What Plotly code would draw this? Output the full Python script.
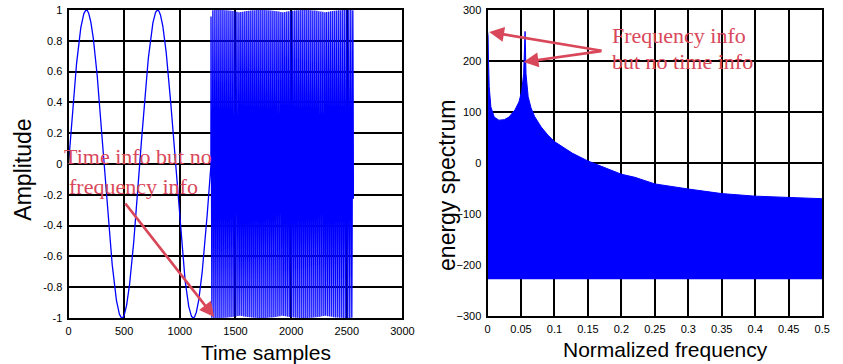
import numpy as np
import plotly.graph_objects as go

# ---- Left panel: test signal (two segments, frequencies) ----
n_samples = 2560
split_sample = 1280
low_period = 640        # samples per cycle of the slow part
high_freq = 0.0557      # cycles per sample of the fast part (matches right-hand spectrum peak)

t = np.arange(n_samples)
signal = np.where(t < split_sample,
                  np.sin(2 * np.pi * t / low_period),
                  np.sin(2 * np.pi * high_freq * t))

# ---- Right panel: energy spectrum envelope ----
freq_pts = [0.0, 0.0008, 0.0015, 0.0025, 0.005, 0.01, 0.017, 0.025, 0.032, 0.041,
            0.047, 0.051, 0.054, 0.0553, 0.0561, 0.0575, 0.0607, 0.065, 0.0704,
            0.08, 0.09, 0.1, 0.127, 0.15, 0.176, 0.2, 0.22, 0.25, 0.3, 0.35,
            0.4, 0.45, 0.5]
spec_top = [258, 250, 200, 150, 110, 90, 84, 85, 90, 104,
            120, 140, 175, 258, 258, 175, 130, 108, 91,
            71, 55, 42, 19, 4, -10, -22, -28, -41, -51, -60,
            -65, -68, -70]
spec_floor = -228

x_ticks_left = [0, 500, 1000, 1500, 2000, 2500, 3000]
y_ticks_left = [-1, -0.8, -0.6, -0.4, -0.2, 0, 0.2, 0.4, 0.6, 0.8, 1]
x_ticks_right = [0, 0.05, 0.1, 0.15, 0.2, 0.25, 0.3, 0.35, 0.4, 0.45, 0.5]
x_ticktext_right = ["0", "0.05", "0.1", "0.15", "0.2", "0.25", "0.3", "0.35", "0.4", "0.45", "0.5"]
y_ticks_right = [-300, -200, -100, 0, 100, 200, 300]

W, H = 843, 364
red = "#d9485a"

fig = go.Figure()
fig.add_trace(go.Scatter(x=t, y=signal, mode="lines",
                         line=dict(color="#0000ff", width=1.3),
                         xaxis="x", yaxis="y", showlegend=False))
fig.add_trace(go.Scatter(x=freq_pts, y=[spec_floor] * len(freq_pts), mode="lines",
                         line=dict(color="#0000ff", width=0),
                         xaxis="x2", yaxis="y2", showlegend=False))
fig.add_trace(go.Scatter(x=freq_pts, y=spec_top, mode="lines", fill="tonexty",
                         fillcolor="#0000ff", line=dict(color="#0000ff", width=1),
                         xaxis="x2", yaxis="y2", showlegend=False))

tickfont = dict(family="Liberation Sans, Arial", size=11, color="black")
axcommon = dict(showline=True, linecolor="black", linewidth=2, mirror=True,
                showgrid=True, gridcolor="black", gridwidth=2,
                zeroline=False, ticks="outside", ticklen=2, tickcolor="white",
                tickfont=tickfont)

fig.update_layout(
    width=W, height=H,
    margin=dict(l=0, r=0, t=10, b=46),
    paper_bgcolor="white", plot_bgcolor="white",
    xaxis=dict(domain=[66.7 / W, 406.7 / W], range=[0, 3000], tickvals=x_ticks_left,
               anchor="y", **axcommon),
    yaxis=dict(domain=[0, 1], range=[-1, 1], tickvals=y_ticks_left,
               ticktext=[str(v) for v in y_ticks_left], anchor="x", **axcommon),
    xaxis2=dict(domain=[493.3 / W, 834 / W], range=[0, 0.5], tickvals=x_ticks_right,
                ticktext=x_ticktext_right, anchor="y2", **axcommon),
    yaxis2=dict(domain=[2 / 308, 1], range=[-300, 300], tickvals=y_ticks_right,
                anchor="x2", **axcommon),
)

annotations = []
def add_text(text, xpx, ypx, size, angle=0, family="Liberation Sans, Arial", color="black"):
    # pixel coordinates -> paper coords (plot area: top=10, height=308)
    annotations.append(dict(text=text, xref="paper", yref="paper",
                            x=xpx / W, y=(318 - ypx) / 308,
                            xanchor="center", yanchor="middle", showarrow=False,
                            textangle=angle,
                            font=dict(family=family, size=size, color=color)))

add_text("Amplitude", 20, 170, 23, angle=-90)
add_text("Time samples", 268, 352, 21)
add_text("energy spectrum", 452, 185, 23, angle=-90)
add_text("Normalized frequency", 675, 349, 21)

serif = "Liberation Serif, Times New Roman"
add_text("Time info but no", 137, 156, 22, family=serif, color=red)
add_text("frequency info", 133, 186, 22, family=serif, color=red)
add_text("Frequency info", 688, 36, 22, family=serif, color=red)
add_text("but no time info", 692, 62, 22, family=serif, color=red)

def add_arrow(x0, y0, x1, y1):
    annotations.append(dict(xref="paper", yref="paper", axref="pixel", ayref="pixel",
                            x=x1 / W, y=(318 - y1) / 308, ax=x0 - x1, ay=y0 - y1,
                            text="", showarrow=True, arrowhead=2, arrowsize=1.1,
                            arrowwidth=2.7, arrowcolor=red))

add_arrow(125, 202, 215, 317)
add_arrow(609, 51, 495, 32)
add_arrow(609, 51, 530, 62)

fig.update_layout(annotations=annotations)
fig.write_html("out.html")
